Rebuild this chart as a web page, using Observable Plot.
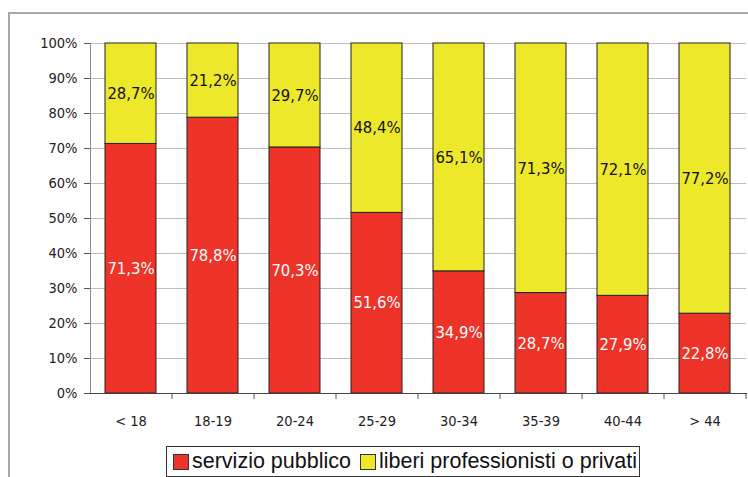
<!DOCTYPE html>
<html>
<head>
<meta charset="utf-8">
<script src="https://cdn.jsdelivr.net/npm/d3@7"></script>
<script src="https://cdn.jsdelivr.net/npm/@observablehq/plot@0.6"></script>
<style>
  html, body { margin: 0; padding: 0; background: white; overflow: hidden; }
  #wrap { position: relative; width: 748px; height: 477px; overflow: hidden; }
  #frame { position: absolute; left: 8px; top: 12px; width: 900px; height: 700px; border: 2px solid #a8a8a8; pointer-events: none; }
  #chart { position: absolute; left: 0; top: 0; }
  #legend { position: absolute; left: 166px; top: 446px; height: 29px; border: 1px solid #333; background: white;
    display: flex; align-items: center; font-family: "Liberation Sans", Arial, sans-serif; font-size: 21.5px; color: #111; padding: 0 2px 0 6px; white-space: nowrap; }
  .sw { display: inline-block; width: 14px; height: 14px; border: 1px solid #333; margin-right: 3px; }
  .item { display: flex; align-items: center; margin-right: 9px; }
  .item:last-child { margin-right: 0; }
</style>
</head>
<body>
<div id="wrap">
  <div id="frame"></div>
  <div id="chart"></div>
  <div id="legend"></div>
</div>
<script>
const categories = ["< 18", "18-19", "20-24", "25-29", "30-34", "35-39", "40-44", "> 44"];
const seriesNames = ["servizio pubblico", "liberi professionisti o privati"];
const pubblico = [71.3, 78.8, 70.3, 51.6, 34.9, 28.7, 27.9, 22.8];
const privati = [28.7, 21.2, 29.7, 48.4, 65.1, 71.3, 72.1, 77.2];
const colors = ["#ee3329", "#eee82a"];
const yTicks = [0, 10, 20, 30, 40, 50, 60, 70, 80, 90, 100];

const data = [
  ...categories.map((c, i) => ({cat: c, series: seriesNames[0], value: pubblico[i]})),
  ...categories.map((c, i) => ({cat: c, series: seriesNames[1], value: privati[i]}))
];
const fmt = v => v.toFixed(1).replace(".", ",") + "%";
const labelFont = "'DejaVu Sans Condensed', 'DejaVu Sans', sans-serif";

const chart = Plot.plot({
  width: 748,
  height: 440,
  marginLeft: 90,
  marginRight: 2,
  marginTop: 43,
  marginBottom: 47,
  style: {background: "transparent", fontFamily: labelFont, fontSize: "14.5px", color: "#222"},
  x: {domain: categories, paddingInner: 0.378, paddingOuter: 0.189, label: null},
  y: {domain: [0, 100], label: null},
  color: {domain: seriesNames, range: colors},
  marks: [
    Plot.gridY(yTicks, {stroke: "#bdbdbd", strokeOpacity: 1}),
    Plot.barY(data, Plot.stackY({x: "cat", y: "value", z: "series", fill: "series", stroke: "#222", strokeWidth: 1})),
    Plot.text(data, Plot.filter(d => d.series === seriesNames[0],
      Plot.stackY({x: "cat", y: "value", z: "series", text: d => fmt(d.value), fill: "white", fontSize: 16.5, fontFamily: labelFont}))),
    Plot.text(data, Plot.filter(d => d.series === seriesNames[1],
      Plot.stackY({x: "cat", y: "value", z: "series", text: d => fmt(d.value), fill: "#111", fontSize: 16.5, fontFamily: labelFont}))),
    Plot.frame({anchor: "left", stroke: "#8a8a8a"}),
    Plot.frame({anchor: "bottom", stroke: "#444"}),
    Plot.axisY({ticks: yTicks, tickFormat: d => d + "%", tickSize: 6, tickPadding: 7, stroke: "#555", label: null, fontSize: 14.5}),
    Plot.axisX({tickSize: 6, dx: 41, tickFormat: () => "", stroke: "#555", label: null}),
    Plot.axisX({tickSize: 0, tickPadding: 22, label: null, fontSize: 14.5})
  ]
});
document.getElementById("chart").appendChild(chart);

const legend = document.getElementById("legend");
seriesNames.forEach((name, i) => {
  const item = document.createElement("span");
  item.className = "item";
  const sw = document.createElement("span");
  sw.className = "sw";
  sw.style.background = colors[i];
  item.appendChild(sw);
  item.appendChild(document.createTextNode(name));
  legend.appendChild(item);
});
</script>
</body>
</html>
